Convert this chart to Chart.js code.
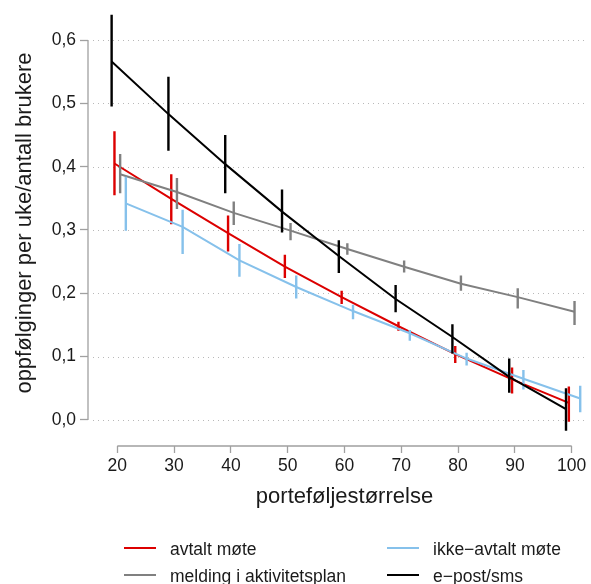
<!DOCTYPE html>
<html>
<head>
<meta charset="utf-8">
<script src="https://cdn.jsdelivr.net/npm/chart.js@4.4.1/dist/chart.umd.min.js"></script>
<style>
  html, body { margin: 0; padding: 0; background: #fff; }
  #ramme { width: 591px; height: 584px; }
</style>
</head>
<body>
<div id="ramme"><canvas id="grafico" width="591" height="584"></canvas></div>
<script>
// Aksemerker
var xTicks = [20, 30, 40, 50, 60, 70, 80, 90, 100];
var yTicks = [0, 0.1, 0.2, 0.3, 0.4, 0.5, 0.6];

// avtalt møte
var avtaltX  = [19.5, 29.5, 39.5, 49.5, 59.5, 69.5, 79.5, 89.5, 99.5];
var avtaltY  = [0.405, 0.349, 0.295, 0.242, 0.194, 0.148, 0.104, 0.064, 0.027];
var avtaltLo = [0.355, 0.309, 0.266, 0.224, 0.183, 0.141, 0.090, 0.042, -0.003];
var avtaltHi = [0.456, 0.388, 0.323, 0.261, 0.204, 0.155, 0.117, 0.083, 0.053];

// melding i aktivitetsplan
var meldingX  = [20.5, 30.5, 40.5, 50.5, 60.5, 70.5, 80.5, 90.5, 100.5];
var meldingY  = [0.388, 0.360, 0.327, 0.299, 0.270, 0.242, 0.215, 0.194, 0.171];
var meldingLo = [0.358, 0.333, 0.308, 0.284, 0.261, 0.233, 0.204, 0.176, 0.150];
var meldingHi = [0.420, 0.382, 0.345, 0.311, 0.279, 0.252, 0.228, 0.208, 0.188];

// ikke-avtalt møte
var ikkeX  = [21.5, 31.5, 41.5, 51.5, 61.5, 71.5, 81.5, 91.5, 101.5];
var ikkeY  = [0.342, 0.305, 0.252, 0.210, 0.172, 0.137, 0.097, 0.065, 0.034];
var ikkeLo = [0.299, 0.262, 0.226, 0.192, 0.159, 0.125, 0.086, 0.048, 0.012];
var ikkeHi = [0.384, 0.332, 0.278, 0.228, 0.182, 0.142, 0.106, 0.079, 0.054];

// e-post/sms
var epostX  = [19, 29, 39, 49, 59, 69, 79, 89, 99];
var epostY  = [0.566, 0.483, 0.404, 0.329, 0.259, 0.191, 0.131, 0.068, 0.017];
var epostLo = [0.495, 0.425, 0.358, 0.296, 0.232, 0.170, 0.105, 0.043, -0.017];
var epostHi = [0.640, 0.542, 0.450, 0.364, 0.284, 0.213, 0.151, 0.097, 0.050];

var serier = [
  { navn: "avtalt møte", farge: "#dc0000", x: avtaltX, y: avtaltY, lo: avtaltLo, hi: avtaltHi, kol: 0, rad: 0 },
  { navn: "melding i aktivitetsplan", farge: "#808080", x: meldingX, y: meldingY, lo: meldingLo, hi: meldingHi, kol: 0, rad: 1 },
  { navn: "ikke\u2212avtalt møte", farge: "#86c1eb", x: ikkeX, y: ikkeY, lo: ikkeLo, hi: ikkeHi, kol: 1, rad: 0 },
  { navn: "e\u2212post/sms", farge: "#000000", x: epostX, y: epostY, lo: epostLo, hi: epostHi, kol: 1, rad: 1 }
];

var fontfamilie = "'Liberation Sans', Arial, Helvetica, sans-serif";
var aksefarge = "#a0a0a0";

function punkter(xs, ys) {
  var p = [];
  for (var i = 0; i < xs.length; i++) p.push({ x: xs[i], y: ys[i] });
  return p;
}

// feilstreker: to punkter per stolpe, null mellom
function feilstreker(xs, lo, hi) {
  var p = [];
  for (var i = 0; i < xs.length; i++) {
    p.push({ x: xs[i], y: lo[i] }, { x: xs[i], y: hi[i] }, { x: xs[i], y: null });
  }
  return p;
}

var datasett = [];
serier.forEach(function (s, i) {
  var rekke = serier.length - i;
  datasett.push({
    label: s.navn,
    data: punkter(s.x, s.y),
    borderColor: s.farge,
    borderWidth: 2,
    pointRadius: 0,
    fill: false,
    order: rekke
  });
  datasett.push({
    label: s.navn + " feil",
    data: feilstreker(s.x, s.lo, s.hi),
    borderColor: s.farge,
    borderWidth: 2.4,
    pointRadius: 0,
    fill: false,
    spanGaps: false,
    order: rekke
  });
});

// rutenett, akselinjer, aksetitler og forklaring
var egenTegning = {
  id: "egenTegning",
  beforeDatasetsDraw: function (chart) {
    var ctx = chart.ctx, sy = chart.scales.y, ca = chart.chartArea;
    ctx.save();
    ctx.strokeStyle = "#b8b8b8";
    ctx.lineWidth = 1;
    ctx.setLineDash([1, 4]);
    yTicks.forEach(function (v) {
      var py = Math.round(sy.getPixelForValue(v)) + 0.5;
      ctx.beginPath();
      ctx.moveTo(ca.left + 5, py);
      ctx.lineTo(ca.right - 5, py);
      ctx.stroke();
    });
    ctx.restore();
  },
  afterDraw: function (chart) {
    var ctx = chart.ctx;
    var sx = chart.scales.x, sy = chart.scales.y, ca = chart.chartArea;
    ctx.save();
    ctx.strokeStyle = aksefarge;
    ctx.lineWidth = 1.3;
    ctx.beginPath();
    ctx.moveTo(sx.getPixelForValue(xTicks[0]), ca.bottom);
    ctx.lineTo(sx.getPixelForValue(xTicks[xTicks.length - 1]), ca.bottom);
    ctx.moveTo(ca.left, sy.getPixelForValue(yTicks[0]));
    ctx.lineTo(ca.left, sy.getPixelForValue(yTicks[yTicks.length - 1]));
    ctx.stroke();

    ctx.fillStyle = "#1a1a1a";
    ctx.font = "22px " + fontfamilie;
    ctx.textAlign = "center";
    ctx.textBaseline = "alphabetic";
    var midtX = (sx.getPixelForValue(xTicks[0]) + sx.getPixelForValue(xTicks[xTicks.length - 1])) / 2;
    ctx.fillText("porteføljestørrelse", midtX, 503);

    ctx.save();
    ctx.translate(31, (ca.top + ca.bottom) / 2);
    ctx.rotate(-Math.PI / 2);
    ctx.fillText("oppfølginger per uke/antall brukere", 0, 0);
    ctx.restore();

    ctx.font = "17.5px " + fontfamilie;
    ctx.textAlign = "left";
    var kolX = [124, 387], radY = [548, 575];
    serier.forEach(function (s) {
      var x0 = kolX[s.kol], y0 = radY[s.rad];
      ctx.strokeStyle = s.farge;
      ctx.lineWidth = 2;
      ctx.beginPath();
      ctx.moveTo(x0, y0);
      ctx.lineTo(x0 + 32, y0);
      ctx.stroke();
      ctx.fillText(s.navn, x0 + 46, y0 + 7);
    });
    ctx.restore();
  }
};

var contexto = document.getElementById("grafico").getContext("2d");
var grafico = new Chart(contexto, {
  type: "line",
  data: { datasets: datasett },
  plugins: [egenTegning],
  options: {
    responsive: false,
    animation: false,
    devicePixelRatio: 1,
    events: [],
    layout: { padding: { left: 0, right: 0, top: 0, bottom: 63 } },
    plugins: { legend: { display: false }, tooltip: { enabled: false } },
    scales: {
      x: {
        type: "linear",
        min: 14.84,
        max: 103.4,
        afterBuildTicks: function (scale) {
          scale.ticks = xTicks.map(function (v) { return { value: v }; });
        },
        afterFit: function (scale) {
          scale.height = 75;
          scale.paddingLeft = 0;
          scale.paddingRight = 0;
        },
        border: { display: false },
        grid: { drawOnChartArea: false, drawTicks: true, tickLength: 7, tickColor: aksefarge, tickWidth: 1.3 },
        ticks: {
          autoSkip: false,
          maxRotation: 0,
          padding: 3,
          color: "#1a1a1a",
          font: { size: 17.5, family: fontfamilie },
          callback: function (v) { return String(v); }
        }
      },
      y: {
        type: "linear",
        min: -0.0411,
        max: 0.6632,
        afterBuildTicks: function (scale) {
          scale.ticks = yTicks.map(function (v) { return { value: v }; });
        },
        afterFit: function (scale) {
          scale.width = 88;
          scale.paddingTop = 0;
          scale.paddingBottom = 0;
        },
        border: { display: false },
        grid: {
          drawOnChartArea: false,
          drawTicks: true,
          tickLength: 8,
          tickColor: aksefarge,
          tickWidth: 1.3
        },
        ticks: {
          padding: 4,
          color: "#1a1a1a",
          font: { size: 17.5, family: fontfamilie },
          callback: function (v) { return v.toFixed(1).replace(".", ","); }
        }
      }
    }
  }
});
</script>
</body>
</html>
